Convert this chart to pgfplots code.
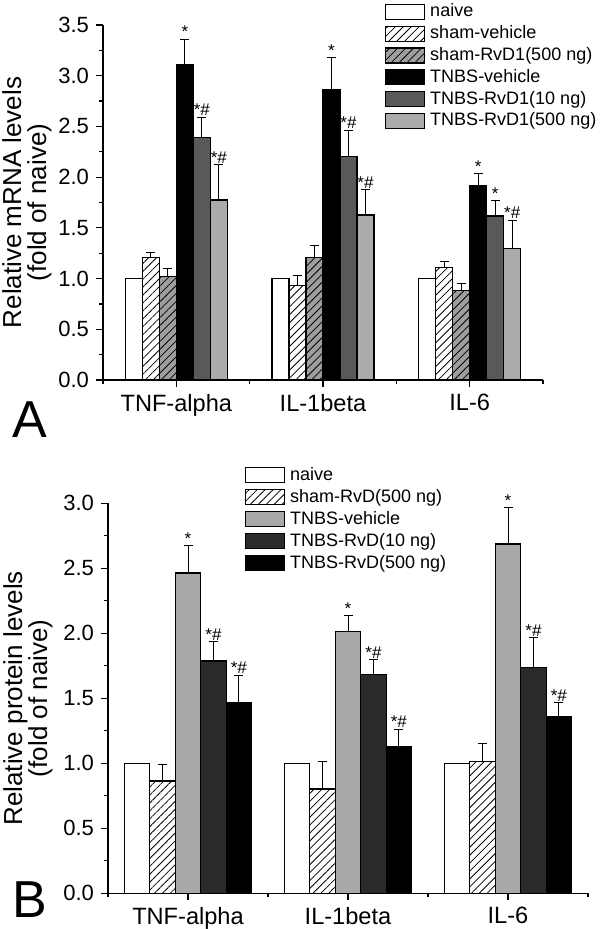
\documentclass[border=0pt]{standalone}
\usepackage{fontspec}
\setmainfont{Liberation Sans}
\usepackage{pgfplots}
\pgfplotsset{compat=1.18}
\usetikzlibrary{patterns.meta}

\definecolor{gAthree}{HTML}{9E9E9E}
\definecolor{gAfive}{HTML}{595959}
\definecolor{gAsix}{HTML}{ABABAB}
\definecolor{gBthree}{HTML}{A8A8A8}
\definecolor{gBfour}{HTML}{2A2A2A}

\tikzset{
  sig/.style={font=\fontsize{8.5}{8.5}\selectfont, anchor=south, inner sep=0.5pt},
  hatch/.style={postaction={pattern={Lines[angle=45,distance=2.8pt,line width=0.4pt]}}},
}
\pgfplotsset{
  myerr/.style={error bars/.cd, y dir=plus, y explicit,
    error bar style={black,line width=0.5pt},
    error mark options={rotate=90,mark size=2.25pt,line width=0.5pt,black}},
  leg/.style={legend image code/.code={\draw[##1] (0pt,-3.75pt) rectangle (19.5pt,3.75pt);}},
  common/.style={
    scale only axis, enlargelimits=false, clip=false,
    axis x line*=bottom, axis y line*=left, axis line style={-, line width=0.6pt},
    tick align=outside, major tick length=3.5pt, minor tick length=2pt,
    tick style={black, line width=0.6pt},
    xmin=-0.5, xmax=2.5, ymin=0,
    xtick={0,1,2}, minor xtick={-0.5,0.5,1.5,2.5},
    xticklabels={TNF-alpha, IL-1beta, IL-6},
    minor y tick num=1,
    /pgf/number format/assume math mode=true,
    yticklabel style={font=\fontsize{11}{11}\selectfont,
      /pgf/number format/fixed, /pgf/number format/fixed zerofill, /pgf/number format/precision=1},
    xticklabel style={font=\fontsize{11.8}{11.8}\selectfont},
    ylabel style={align=center, font=\fontsize{13}{12.5}\selectfont, anchor=center},
    ybar,
    legend cell align=left,
  },
}

\begin{document}
\begin{tikzpicture}
\useasboundingbox (0pt,0pt) rectangle (300pt,-464.5pt);

% ---------------- Panel A ----------------
\begin{axis}[common,
  at={(51.5pt,-190pt)}, anchor=south west,
  width=220pt, height=177.5pt,
  ymax=3.5, ytick={0,0.5,...,3.5},
  bar width=0.116,
  ylabel={Relative mRNA levels\\(fold of naive)},
  ylabel style={at={(axis description cs:-0.1727,0.5)}},
  legend style={draw=none, fill=none, at={(axis description cs:0.641,1.062)}, anchor=north west,
    inner sep=0pt, outer sep=0pt, row sep=1.9pt, column sep=2.5pt,
    font=\fontsize{9}{9}\selectfont,
    nodes={inner sep=0pt, text height=7pt, text depth=2pt, anchor=west}},
]
\addplot[draw=black, line width=0.6pt, fill=white, bar shift=-0.29, leg]
  coordinates {(0,1.0) (1,1.0) (2,1.0)};
\addlegendentry{naive}
\addplot[draw=black, line width=0.6pt, fill=white, hatch, bar shift=-0.174, leg, myerr]
  coordinates {(0,1.205) +- (0,0.05) (1,0.93) +- (0,0.10) (2,1.107) +- (0,0.06)};
\addlegendentry{sham-vehicle}
\addplot[draw=black, line width=0.6pt, fill=gAthree, hatch, bar shift=-0.058, leg, myerr]
  coordinates {(0,1.02) +- (0,0.08) (1,1.205) +- (0,0.12) (2,0.883) +- (0,0.07)};
\addlegendentry{sham-RvD1(500 ng)}
\addplot[draw=black, line width=0.6pt, fill=black, bar shift=0.058, leg, myerr]
  coordinates {(0,3.11) +- (0,0.25) (1,2.867) +- (0,0.31) (2,1.915) +- (0,0.12)};
\addlegendentry{TNBS-vehicle}
\addplot[draw=black, line width=0.6pt, fill=gAfive, bar shift=0.174, leg, myerr]
  coordinates {(0,2.39) +- (0,0.20) (1,2.204) +- (0,0.26) (2,1.616) +- (0,0.15)};
\addlegendentry{TNBS-RvD1(10 ng)}
\addplot[draw=black, line width=0.6pt, fill=gAsix, bar shift=0.29, leg, myerr]
  coordinates {(0,1.775) +- (0,0.35) (1,1.626) +- (0,0.25) (2,1.297) +- (0,0.28)};
\addlegendentry{TNBS-RvD1(500 ng)}
\node[sig] at (axis cs:0.058,3.36) {*};
\node[sig] at (axis cs:1.058,3.177) {*};
\node[sig] at (axis cs:2.058,2.035) {*};
\node[sig] at (axis cs:0.174,2.59) {*\#};
\node[sig] at (axis cs:1.174,2.464) {*\#};
\node[sig] at (axis cs:2.174,1.766) {*};
\node[sig] at (axis cs:0.29,2.125) {*\#};
\node[sig] at (axis cs:1.29,1.876) {*\#};
\node[sig] at (axis cs:2.29,1.577) {*\#};
\end{axis}
\node[font=\fontsize{26}{26}\selectfont] at (15pt,-210pt) {A};

% ---------------- Panel B ----------------
\begin{axis}[common,
  at={(54pt,-446.65pt)}, anchor=south west,
  width=240pt, height=195pt,
  ymax=3.0, ytick={0,0.5,...,3.0},
  bar width=0.159,
  ylabel={Relative protein levels\\(fold of naive)},
  ylabel style={at={(axis description cs:-0.1667,0.5)}},
  legend style={draw=none, fill=none, at={(axis description cs:0.2854,1.0949)}, anchor=north west,
    inner sep=0pt, outer sep=0pt, row sep=2pt, column sep=2.5pt,
    font=\fontsize{9}{9}\selectfont,
    nodes={inner sep=0pt, text height=7pt, text depth=2pt, anchor=west}},
]
\addplot[draw=black, line width=0.6pt, fill=white, bar shift=-0.318, leg]
  coordinates {(0,1.0) (1,1.0) (2,1.0)};
\addlegendentry{naive}
\addplot[draw=black, line width=0.6pt, fill=white, hatch, bar shift=-0.159, leg, myerr]
  coordinates {(0,0.864) +- (0,0.13) (1,0.803) +- (0,0.21) (2,1.013) +- (0,0.14)};
\addlegendentry{sham-RvD(500 ng)}
\addplot[draw=black, line width=0.6pt, fill=gBthree, bar shift=0, leg, myerr]
  coordinates {(0,2.464) +- (0,0.21) (1,2.015) +- (0,0.12) (2,2.687) +- (0,0.28)};
\addlegendentry{TNBS-vehicle}
\addplot[draw=black, line width=0.6pt, fill=gBfour, bar shift=0.159, leg, myerr]
  coordinates {(0,1.787) +- (0,0.15) (1,1.685) +- (0,0.11) (2,1.735) +- (0,0.23)};
\addlegendentry{TNBS-RvD(10 ng)}
\addplot[draw=black, line width=0.6pt, fill=black, bar shift=0.318, leg, myerr]
  coordinates {(0,1.467) +- (0,0.21) (1,1.126) +- (0,0.136) (2,1.356) +- (0,0.11)};
\addlegendentry{TNBS-RvD(500 ng)}
\node[sig] at (axis cs:0,2.674) {*};
\node[sig] at (axis cs:1,2.135) {*};
\node[sig] at (axis cs:2,2.967) {*};
\node[sig] at (axis cs:0.159,1.937) {*\#};
\node[sig] at (axis cs:1.159,1.795) {*\#};
\node[sig] at (axis cs:2.159,1.965) {*\#};
\node[sig] at (axis cs:0.318,1.677) {*\#};
\node[sig] at (axis cs:1.318,1.262) {*\#};
\node[sig] at (axis cs:2.318,1.466) {*\#};
\end{axis}
\node[font=\fontsize{26}{26}\selectfont] at (15pt,-450pt) {B};
\end{tikzpicture}
\end{document}
